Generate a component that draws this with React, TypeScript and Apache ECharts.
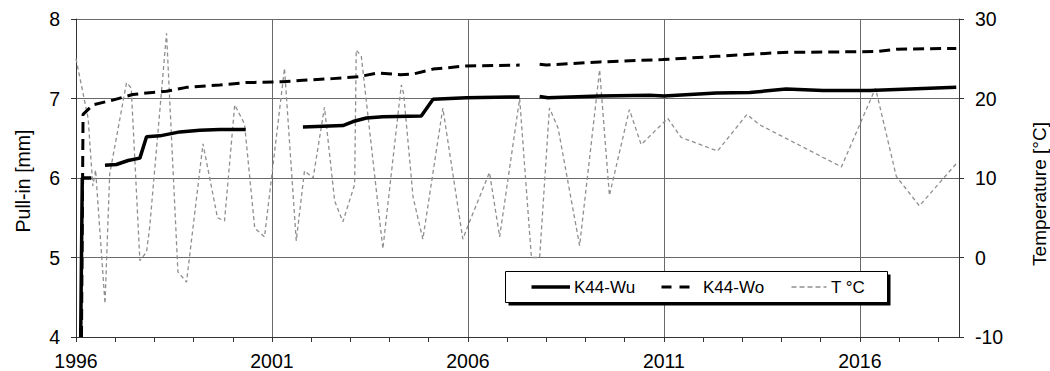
import React, { useEffect, useRef } from "react";
import * as echarts from "echarts";

// ---------- data ----------
const xMin = 1996;
const xMax = 2018.53;
const xLabelYears = [1996, 2001, 2006, 2011, 2016];

const seriesNames = ["K44-Wu", "K44-Wo", "T °C"];

// K44-Wu (pull-in, mm) – null = gap in the record
const wuYears = [
  1996.12, 1996.16, 1996.39, 1996.55, 1996.74, 1997.03, 1997.33, 1997.63, 1997.8, 1998.14,
  1998.65, 1999.16, 1999.67, 2000.33, 2001.0, 2001.79, 2002.81, 2003.07, 2003.41, 2003.83,
  2004.81, 2005.11, 2005.96, 2007.32, 2007.55, 2007.83, 2008.04, 2009.36, 2010.64, 2011.0,
  2012.34, 2013.19, 2014.12, 2015.06, 2016.25, 2018.46,
];
const wuValues = [
  4.0, 6.0, 6.0, null, 6.16, 6.17, 6.22, 6.25, 6.52, 6.53,
  6.58, 6.6, 6.61, 6.61, null, 6.64, 6.66, 6.71, 6.755, 6.77,
  6.78, 6.99, 7.01, 7.02, null, 7.025, 7.01, 7.03, 7.04, 7.03,
  7.07, 7.075, 7.12, 7.1, 7.1, 7.14,
];

// K44-Wo (pull-in, mm)
const woYears = [
  1996.14, 1996.18, 1996.43, 1996.94, 1997.45, 1997.8, 1998.31, 1998.82, 1999.67, 2000.34,
  2001.27, 2001.79, 2002.55, 2003.22, 2003.69, 2004.28, 2004.62, 2005.11, 2005.96, 2007.32,
  2007.55, 2007.83, 2008.0, 2009.36, 2010.97, 2012.34, 2014.04, 2016.43, 2016.93, 2018.46,
];
const woValues = [
  4.0, 6.8, 6.92, 6.98, 7.05, 7.07, 7.09, 7.14, 7.17, 7.2,
  7.21, 7.23, 7.25, 7.275, 7.32, 7.3, 7.31, 7.37, 7.41, 7.42,
  null, 7.43, 7.42, 7.46, 7.49, 7.53, 7.58, 7.59, 7.62, 7.63,
];

// Temperature (°C)
const tYears = [
  1996.0, 1996.31, 1996.43, 1996.5, 1996.74, 1996.86, 1997.29, 1997.41, 1997.63, 1997.8,
  1997.88, 1998.31, 1998.6, 1998.82, 1999.24, 1999.61, 1999.79, 2000.05, 2000.3, 2000.56,
  2000.81, 2001.32, 2001.62, 2001.83, 2002.05, 2002.34, 2002.6, 2002.81, 2003.11, 2003.15,
  2003.28, 2003.83, 2004.3, 2004.36, 2004.6, 2004.85, 2005.36, 2005.87, 2006.0, 2006.55,
  2006.81, 2007.32, 2007.62, 2007.83, 2008.08, 2008.3, 2008.85, 2009.36, 2009.61, 2010.12,
  2010.42, 2011.1, 2011.44, 2012.37, 2013.12, 2013.44, 2015.53, 2016.4, 2016.93, 2017.52,
  2018.46,
];
const tValues = [
  25.0, 17.5, 9.0, 11.0, -5.8, 10.5, 22.0, 21.3, -0.4, 0.7,
  3.8, 28.2, -1.8, -3.1, 14.3, 5.0, 4.6, 19.2, 16.8, 3.7,
  2.6, 23.8, 2.1, 10.9, 10.0, 18.9, 7.1, 4.5, 9.2, 26.1,
  25.3, 1.1, 21.7, 20.6, 7.6, 2.3, 18.8, 2.3, 4.0, 10.7,
  2.6, 20.0, 0.0, 0.0, 18.8, 16.3, 1.5, 23.6, 7.8, 18.6,
  14.2, 17.5, 15.1, 13.4, 18.0, 16.7, 11.4, 21.3, 10.2, 6.5,
  11.8,
];

const leftAxisTitle = "Pull-in [mm]";
const rightAxisTitle = "Temperature [°C]";

// ---------- helpers ----------
const zip = (xs: number[], ys: (number | null)[]) => xs.map((x, i) => [x, ys[i]]);
const FONT = "'Liberation Sans', Arial, sans-serif";
const AXIS_COLOR = "#333333";
const GRID_COLOR = "#6a6a6a";
const T_COLOR = "#8f8f8f";

export default function App() {
  const ref = useRef<HTMLDivElement>(null);

  useEffect(() => {
    document.body.style.margin = "0";
    const chart = echarts.init(ref.current as HTMLDivElement, null, { renderer: "svg" });

    const labelStyle = { fontFamily: FONT, fontSize: 19.5, color: "#000" };

    const option: any = {
      animation: false,
      backgroundColor: "#fff",
      grid: { left: 76, right: 91, top: 19, bottom: 32, containLabel: false },
      xAxis: [
        {
          type: "value",
          min: xMin,
          max: xMax,
          interval: 1,
          position: "bottom",
          axisLine: { show: true, onZero: false, lineStyle: { color: AXIS_COLOR, width: 1 } },
          axisTick: { show: true, length: 5, lineStyle: { color: AXIS_COLOR } },
          axisLabel: {
            ...labelStyle,
            margin: 14,
            showMaxLabel: false,
            formatter: (v: number) => {
              const r = Math.round(v);
              return Math.abs(v - r) < 1e-6 && xLabelYears.includes(r) ? String(r) : "";
            },
          },
          splitLine: { show: false },
        },
        {
          type: "value",
          min: xMin,
          max: xMax,
          interval: 5,
          position: "top",
          axisLine: { show: false },
          axisTick: { show: false },
          axisLabel: { show: false },
          splitLine: { show: true, lineStyle: { color: GRID_COLOR, width: 1 } },
        },
      ],
      yAxis: [
        {
          type: "value",
          min: 4,
          max: 8,
          interval: 1,
          position: "left",
          axisLine: { show: true, lineStyle: { color: AXIS_COLOR, width: 1 } },
          axisTick: { show: true, length: 5, lineStyle: { color: AXIS_COLOR } },
          axisLabel: { ...labelStyle, margin: 16 },
          splitLine: { show: true, lineStyle: { color: GRID_COLOR, width: 1 } },
        },
        {
          type: "value",
          min: -10,
          max: 30,
          interval: 10,
          position: "right",
          axisLine: { show: true, lineStyle: { color: AXIS_COLOR, width: 1 } },
          axisTick: { show: true, length: 5, lineStyle: { color: AXIS_COLOR } },
          axisLabel: { ...labelStyle, margin: 16 },
          splitLine: { show: false },
        },
      ],
      series: [
        {
          name: seriesNames[2],
          type: "line",
          xAxisIndex: 0,
          yAxisIndex: 1,
          data: zip(tYears, tValues),
          symbol: "none",
          connectNulls: false,
          lineStyle: { color: T_COLOR, width: 1.3, type: [4, 3] },
          z: 2,
        },
        {
          name: seriesNames[1],
          type: "line",
          xAxisIndex: 0,
          yAxisIndex: 0,
          data: zip(woYears, woValues),
          symbol: "none",
          connectNulls: false,
          lineStyle: { color: "#000", width: 3, type: [11, 6] },
          z: 3,
        },
        {
          name: seriesNames[0],
          type: "line",
          xAxisIndex: 0,
          yAxisIndex: 0,
          data: zip(wuYears, wuValues),
          symbol: "none",
          connectNulls: false,
          lineStyle: { color: "#000", width: 3.5 },
          z: 4,
        },
      ],
      graphic: [
        {
          type: "text",
          x: 23,
          y: 181,
          rotation: Math.PI / 2,
          z: 100,
          style: { text: leftAxisTitle, fontFamily: FONT, fontSize: 19.5, fill: "#000", align: "center", verticalAlign: "middle" },
        },
        {
          type: "text",
          x: 1039,
          y: 194,
          rotation: Math.PI / 2,
          z: 100,
          style: { text: rightAxisTitle, fontFamily: FONT, fontSize: 19, fill: "#000", align: "center", verticalAlign: "middle" },
        },
        {
          type: "rect",
          z: 100,
          shape: { x: 508.5, y: 274.5, width: 382, height: 31 },
          style: { fill: "#000" },
        },
        {
          type: "rect",
          z: 101,
          shape: { x: 505.5, y: 271.5, width: 382, height: 31 },
          style: { fill: "#fff", stroke: "#000", lineWidth: 1 },
        },
        {
          type: "line",
          z: 102,
          shape: { x1: 531.5, y1: 287, x2: 570, y2: 287 },
          style: { stroke: "#000", lineWidth: 3.5 },
        },
        {
          type: "text",
          z: 102,
          x: 574,
          y: 287.5,
          style: { text: seriesNames[0], fontFamily: FONT, fontSize: 17, fill: "#000", align: "left", verticalAlign: "middle" },
        },
        {
          type: "line",
          z: 102,
          shape: { x1: 661.5, y1: 287, x2: 690, y2: 287 },
          style: { stroke: "#000", lineWidth: 3, lineDash: [10, 8] },
        },
        {
          type: "text",
          z: 102,
          x: 703,
          y: 287.5,
          style: { text: seriesNames[1], fontFamily: FONT, fontSize: 17, fill: "#000", align: "left", verticalAlign: "middle" },
        },
        {
          type: "line",
          z: 102,
          shape: { x1: 791.5, y1: 287, x2: 826.5, y2: 287 },
          style: { stroke: T_COLOR, lineWidth: 1.3, lineDash: [5, 3] },
        },
        {
          type: "text",
          z: 102,
          x: 831,
          y: 287.5,
          style: { text: seriesNames[2], fontFamily: FONT, fontSize: 17, fill: "#000", align: "left", verticalAlign: "middle" },
        },
      ],
    };

    chart.setOption(option);
    return () => chart.dispose();
  }, []);

  return <div ref={ref} style={{ width: 1050, height: 371 }} />;
}
